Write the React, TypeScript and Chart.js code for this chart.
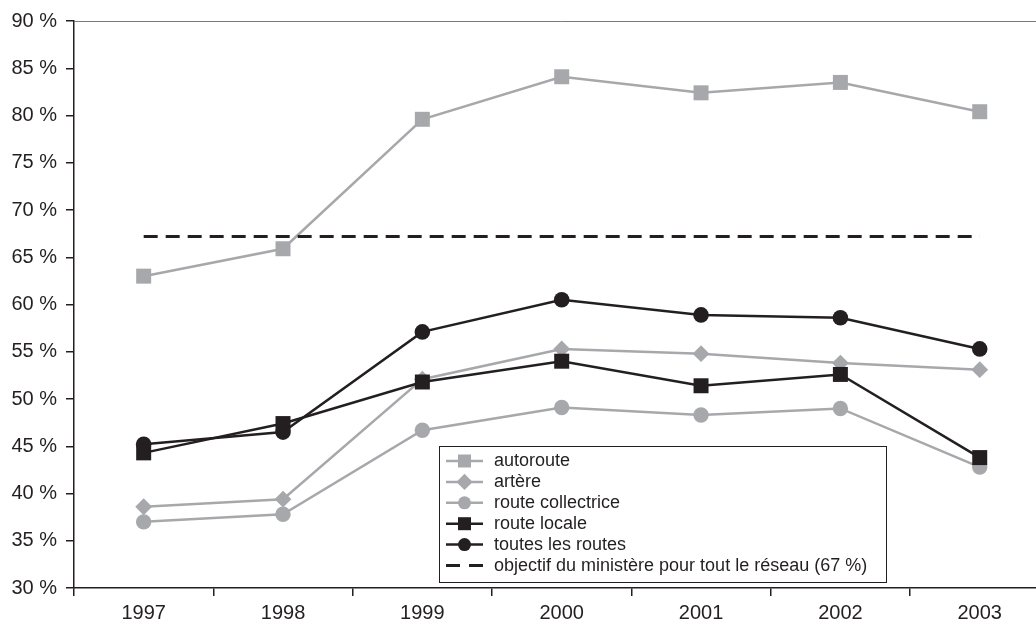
import React, { useEffect, useRef } from 'react';
import { Chart, registerables } from 'chart.js';

Chart.register(...registerables);

// ---- data ----
const years = ['1997', '1998', '1999', '2000', '2001', '2002', '2003'];
const autoroute = [63.0, 65.9, 79.6, 84.1, 82.4, 83.5, 80.4];
const artere = [38.6, 39.4, 52.1, 55.3, 54.8, 53.8, 53.1];
const collectrice = [37.0, 37.8, 46.7, 49.1, 48.3, 49.0, 42.8];
const locale = [44.3, 47.4, 51.8, 54.0, 51.4, 52.6, 43.8];
const toutes = [45.2, 46.5, 57.1, 60.5, 58.9, 58.6, 55.3];
const objectif = [67.2, 67.2, 67.2, 67.2, 67.2, 67.2, 67.2];
const yMin = 30;
const yMax = 90;
const yStep = 5;

const labels = {
  autoroute: 'autoroute',
  artere: 'artère',
  collectrice: 'route collectrice',
  locale: 'route locale',
  toutes: 'toutes les routes',
  objectif: 'objectif du ministère pour tout le réseau (67 %)',
};

// ---- styles ----
const W = 1060;
const H = 622;
const GRAY = '#a7a8ab';
const BLACK = '#231f20';
const FONT = '"Liberation Sans", Arial, Helvetica, sans-serif';

function drawMarker(ctx: CanvasRenderingContext2D, style: string, x: number, y: number, s: number, color: string) {
  ctx.save();
  ctx.fillStyle = color;
  ctx.beginPath();
  if (style === 'rect') {
    ctx.rect(x - s, y - s, 2 * s, 2 * s);
  } else if (style === 'rectRot') {
    const r = s * 1.25;
    ctx.moveTo(x, y - r);
    ctx.lineTo(x + r, y);
    ctx.lineTo(x, y + r);
    ctx.lineTo(x - r, y);
    ctx.closePath();
  } else if (style === 'circle') {
    ctx.arc(x, y, s, 0, Math.PI * 2);
  }
  ctx.fill();
  ctx.restore();
}

const frameLegendPlugin = {
  id: 'frameLegend',
  beforeDatasetsDraw(chart: any) {
    const { ctx, chartArea } = chart;
    ctx.save();
    ctx.strokeStyle = '#7a7a7a';
    ctx.lineWidth = 1;
    ctx.beginPath();
    ctx.moveTo(chartArea.left, chartArea.top + 0.5);
    ctx.lineTo(chartArea.right, chartArea.top + 0.5);
    ctx.stroke();
    ctx.restore();
  },
  afterDraw(chart: any) {
    const { ctx } = chart;
    const bx = 439.5, by = 446.5, bw = 447, bh = 136;
    ctx.save();
    ctx.fillStyle = '#ffffff';
    ctx.fillRect(bx, by, bw, bh);
    ctx.strokeStyle = BLACK;
    ctx.lineWidth = 1;
    ctx.strokeRect(bx, by, bw, bh);
    const ds = chart.data.datasets;
    ds.forEach((d: any, row: number) => {
      const y = 461 + row * 20.9;
      ctx.save();
      ctx.strokeStyle = d.borderColor;
      ctx.lineWidth = d.borderWidth;
      if (d.borderDash && d.borderDash.length) ctx.setLineDash([14, 9]);
      ctx.beginPath();
      ctx.moveTo(446, y);
      ctx.lineTo(483, y);
      ctx.stroke();
      ctx.restore();
      if (d.pointRadius > 0) {
        drawMarker(ctx, d.pointStyle, 464.5, y, 6.5, d.pointBackgroundColor);
      }
      ctx.fillStyle = BLACK;
      ctx.font = `18px ${FONT}`;
      ctx.textAlign = 'left';
      ctx.textBaseline = 'middle';
      ctx.fillText(d.label, 494, y + 0.5);
    });
    ctx.restore();
  },
};

export default function App() {
  const ref = useRef<HTMLCanvasElement | null>(null);

  useEffect(() => {
    if (!ref.current) return;
    const mk = (label: string, data: number[], color: string, style: string, radius: number, order: number) => ({
      label,
      data,
      borderColor: color,
      backgroundColor: color,
      pointBackgroundColor: color,
      pointBorderColor: color,
      pointBorderWidth: 0,
      borderWidth: 2.5,
      pointStyle: style,
      pointRadius: radius,
      pointHoverRadius: radius,
      tension: 0,
      fill: false,
      order,
      clip: false,
    });
    const chart = new Chart(ref.current, {
      type: 'line',
      data: {
        labels: years,
        datasets: [
          mk(labels.autoroute, autoroute, GRAY, 'rect', 10.6, 3),
          mk(labels.artere, artere, GRAY, 'rectRot', 8.4, 4),
          mk(labels.collectrice, collectrice, GRAY, 'circle', 7.7, 5),
          mk(labels.locale, locale, BLACK, 'rect', 10.6, 1),
          mk(labels.toutes, toutes, BLACK, 'circle', 7.8, 0),
          {
            label: labels.objectif,
            data: objectif,
            borderColor: BLACK,
            backgroundColor: BLACK,
            pointBackgroundColor: BLACK,
            borderWidth: 3,
            borderDash: [14, 8],
            pointRadius: 0,
            pointHoverRadius: 0,
            pointStyle: 'line',
            fill: false,
            order: 2,
          } as any,
        ],
      },
      options: {
        responsive: false,
        devicePixelRatio: 1,
        animation: false,
        events: [],
        layout: { padding: { top: 19, right: W - 1051, left: 0, bottom: 0 } },
        plugins: {
          legend: { display: false },
          tooltip: { enabled: false },
          title: { display: false },
        },
        scales: {
          x: {
            type: 'category',
            offset: true,
            grid: {
              offset: true,
              drawOnChartArea: false,
              drawTicks: true,
              tickLength: 8,
              color: BLACK,
              lineWidth: 1.5,
            },
            border: { display: true, color: BLACK, width: 1.5 },
            ticks: {
              color: BLACK,
              font: { size: 20, family: FONT },
              padding: 5,
              maxRotation: 0,
              autoSkip: false,
            },
            afterFit(scale: any) {
              scale.height = H - 588;
            },
          },
          y: {
            min: yMin,
            max: yMax,
            grid: {
              drawOnChartArea: false,
              drawTicks: true,
              tickLength: 8,
              color: BLACK,
              lineWidth: 1.5,
            },
            border: { display: true, color: BLACK, width: 1.5 },
            ticks: {
              stepSize: yStep,
              color: BLACK,
              font: { size: 20, family: FONT },
              padding: 9,
              callback: (v: any) => `${v} %`,
            },
            afterFit(scale: any) {
              scale.width = 74;
            },
          },
        },
      } as any,
      plugins: [frameLegendPlugin],
    });
    return () => chart.destroy();
  }, []);

  return (
    <div
      style={{
        position: 'fixed',
        left: 0,
        top: 0,
        width: 1036,
        height: 622,
        overflow: 'hidden',
        background: '#ffffff',
      }}
    >
      <canvas ref={ref} width={W} height={H} style={{ width: W, height: H, display: 'block' }} />
    </div>
  );
}
